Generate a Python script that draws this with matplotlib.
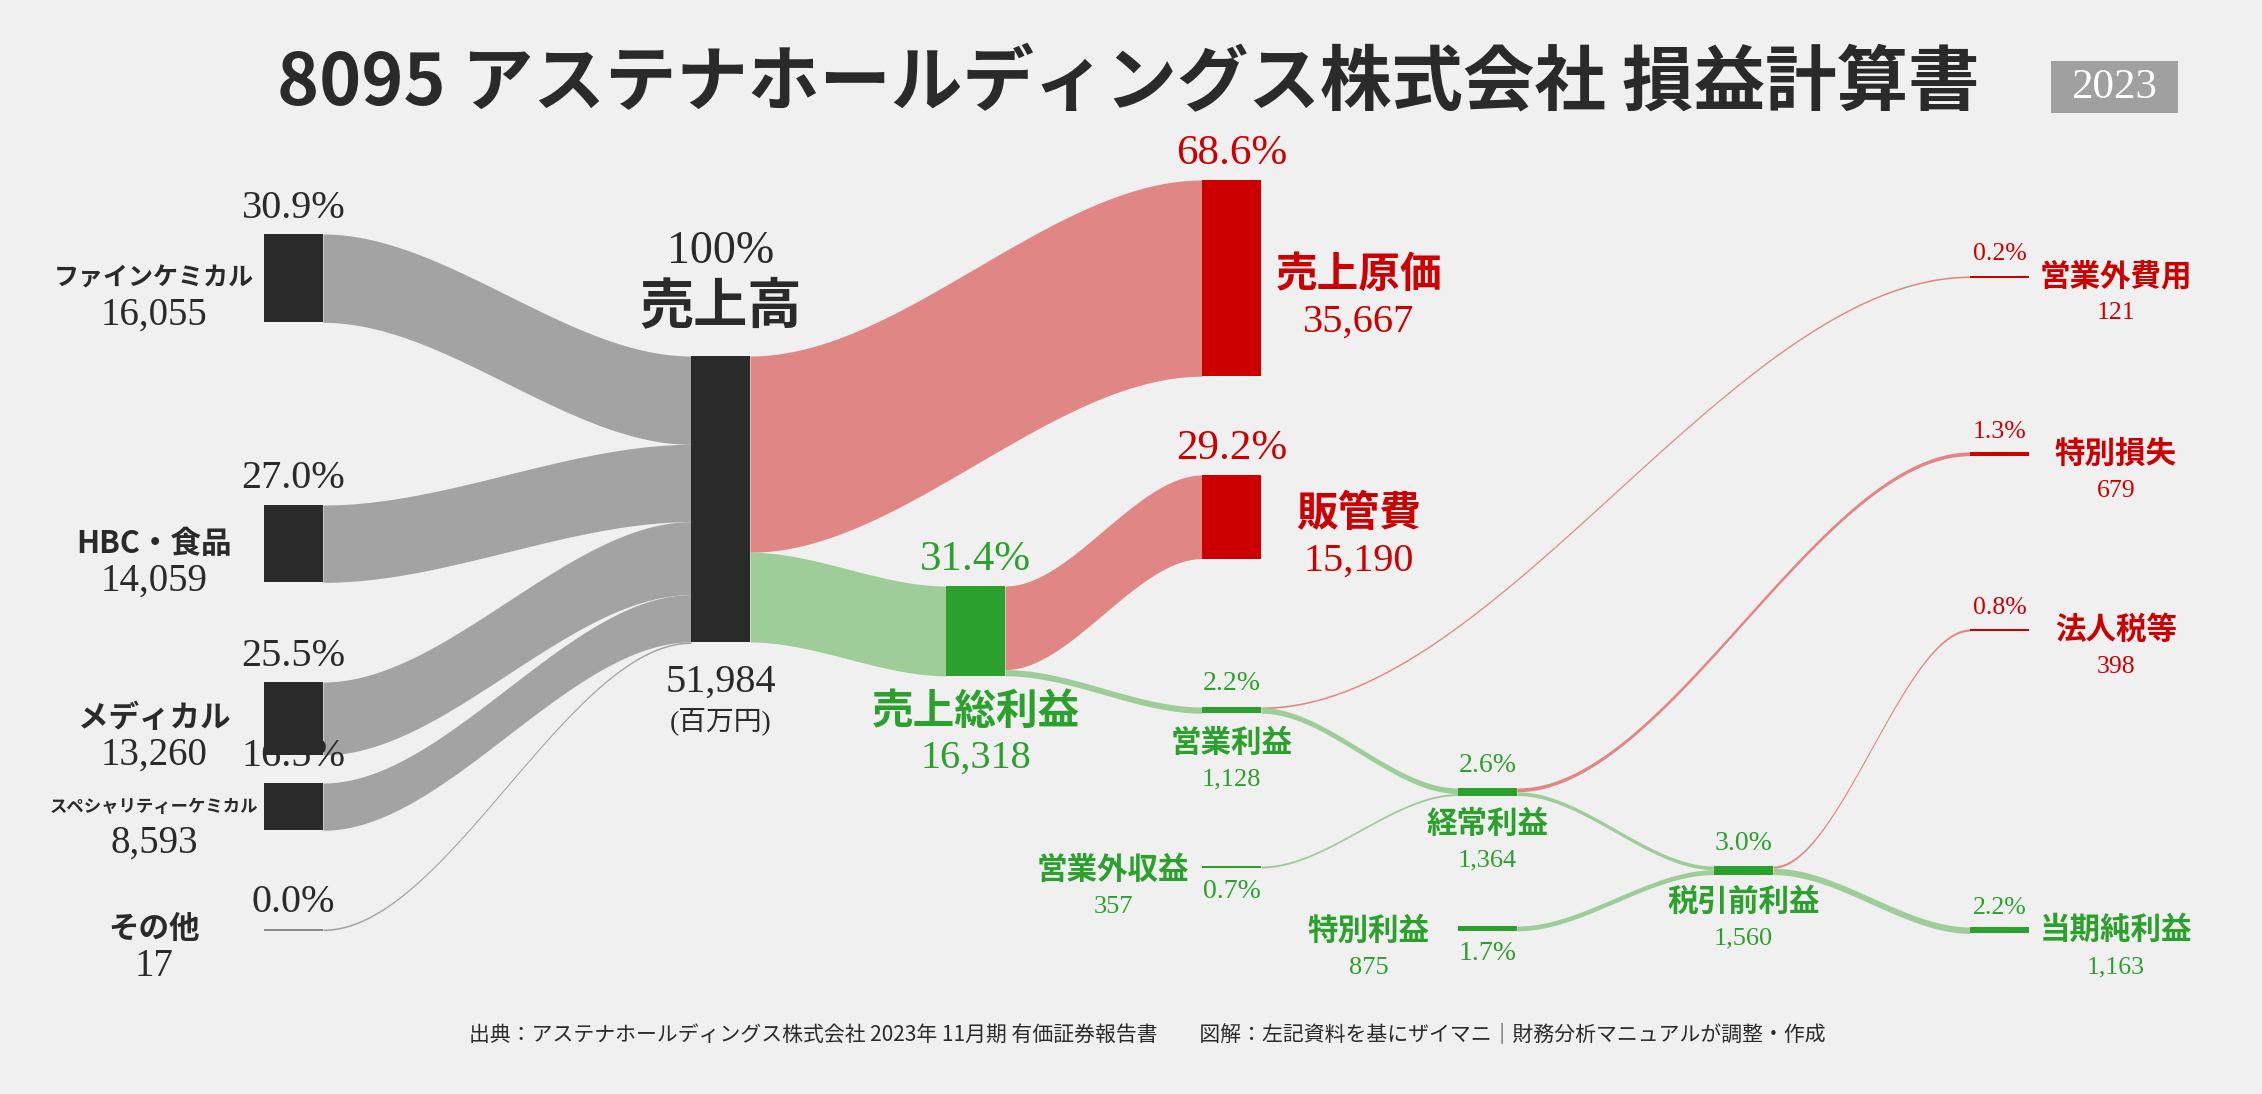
import numpy as np
import matplotlib.pyplot as plt
from matplotlib.patches import Rectangle

# ---- data (百万円) ----
segments = ['ファインケミカル', 'HBC・食品', 'メディカル', 'スペシャリティーケミカル', 'その他']
segment_values = [16055, 14059, 13260, 8593, 17]

pl_names = ['売上高', '売上原価', '売上総利益', '販管費', '営業利益', '営業外収益', '営業外費用',
            '経常利益', '特別利益', '特別損失', '税引前利益', '法人税等', '当期純利益']
pl_values = [51984, 35667, 16318, 15190, 1128, 357, 121, 1364, 875, 679, 1560, 398, 1163]

title = '8095 アステナホールディングス株式会社 損益計算書'
year = '2023'
source_note = ('出典：アステナホールディングス株式会社 2023年 11月期 有価証券報告書　　'
               '図解：左記資料を基にザイマニ｜財務分析マニュアルが調整・作成')

val = dict(zip(pl_names, pl_values))
for s, v in zip(segments, segment_values):
    val[s] = v
revenue = val['売上高']

costs = ['売上原価', '販管費', '営業外費用', '特別損失', '法人税等']
profits = ['売上総利益', '営業利益', '営業外収益', '経常利益', '特別利益', '税引前利益', '当期純利益']

flows = [(s, '売上高', v) for s, v in zip(segments, segment_values)]
flows += [
    ('売上高', '売上原価', val['売上原価']),
    ('売上高', '売上総利益', val['売上総利益']),
    ('売上総利益', '販管費', val['販管費']),
    ('売上総利益', '営業利益', val['営業利益']),
    ('営業利益', '営業外費用', val['営業外費用']),
    ('営業利益', '経常利益', val['営業利益'] - val['営業外費用']),
    ('営業外収益', '経常利益', val['営業外収益']),
    ('経常利益', '特別損失', val['特別損失']),
    ('経常利益', '税引前利益', val['経常利益'] - val['特別損失']),
    ('特別利益', '税引前利益', val['特別利益']),
    ('税引前利益', '法人税等', val['法人税等']),
    ('税引前利益', '当期純利益', val['税引前利益'] - val['法人税等']),
]

# ---- layout (pixels) ----
BG = '#f0f0f0'
DARK = '#2a2a2a'
RED = '#cc0000'
GREEN = '#2ca02c'
GREY_FLOW = '#a3a3a3'
RED_FLOW = '#e08684'
GREEN_FLOW = '#9fcd9a'

col_x = [264, 691, 946, 1202, 1458, 1714, 1970]
W = 59
k = 286.0 / revenue   # px per 百万円
MIN_H = 1.6

node_col = {s: 0 for s in segments}
node_col.update({'売上高': 1, '売上総利益': 2, '売上原価': 3, '販管費': 3, '営業利益': 3,
                 '営業外収益': 3, '経常利益': 4, '特別利益': 4, '税引前利益': 5,
                 '営業外費用': 6, '特別損失': 6, '法人税等': 6, '当期純利益': 6})
node_top = dict(zip(segments, [234, 505, 682, 783, 929]))
node_top.update({'売上高': 356, '売上原価': 180, '販管費': 475, '売上総利益': 586,
                 '営業利益': 707, '営業外収益': 866, '経常利益': 788, '特別利益': 926,
                 '税引前利益': 866, '営業外費用': 276, '特別損失': 452, '法人税等': 629,
                 '当期純利益': 927})

JP = ['Noto Sans CJK JP', 'DejaVu Sans']
SERIF = ['Liberation Serif', 'Noto Sans CJK JP']

fig = plt.figure(figsize=(22.62, 10.94), dpi=100, facecolor=BG)
ax = fig.add_axes([0, 0, 1, 1])
ax.set_xlim(0, 2262)
ax.set_ylim(1094, 0)
ax.axis('off')
ax.set_facecolor(BG)


def color_of(name):
    if name in costs:
        return RED
    if name in profits:
        return GREEN
    return DARK


def geom(name):
    x0 = col_x[node_col[name]]
    top = node_top[name]
    h = val[name] * k
    return x0, top, h


def band(x0, x1, ya, yb, h, color):
    t = np.linspace(0, 1, 200)
    s = t * t * (3 - 2 * t)
    xs = x0 + (x1 - x0) * t
    top = ya + (yb - ya) * s
    hh = max(h, MIN_H)
    ax.fill_between(xs, top, top + hh, color=color, lw=0, zorder=1)


# flows
out_off = {}
in_off = {}
for src, tgt, v in flows:
    sx, stop, _ = geom(src)
    tx, ttop, _ = geom(tgt)
    h = v * k
    ya = stop + out_off.get(src, 0)
    yb = ttop + in_off.get(tgt, 0)
    out_off[src] = out_off.get(src, 0) + h
    in_off[tgt] = in_off.get(tgt, 0) + h
    if src in segments:
        c = GREY_FLOW
    elif tgt in costs:
        c = RED_FLOW
    else:
        c = GREEN_FLOW
    band(sx + W, tx, ya, yb, h, c)

# nodes
for name in list(segments) + pl_names:
    x0, top, h = geom(name)
    c = color_of(name)
    if name == 'その他':
        c = '#8a8a8a'
    ax.add_patch(Rectangle((x0, top), W, max(h, MIN_H), color=c, lw=0, zorder=2))


def txt(x, y, s, size, color, bold=False, family=SERIF):
    ax.text(x, y, s, fontsize=size, color=color, ha='center', va='center',
            fontweight='bold' if bold else 'normal', family=family, zorder=3)


def pct(name):
    return f'{val[name] / revenue * 100:.1f}%'


# title
txt(1128, 84, title, 51.5, DARK, bold=True, family=JP)
ax.add_patch(Rectangle((2051, 61), 127, 52, color='#a0a0a0', lw=0))
txt(2114, 88, year, 31, 'white')

# segment column
name_sizes = [18, 22, 22, 12.5, 22]
for s, fs in zip(segments, name_sizes):
    x0, top, h = geom(s)
    cy = top + h / 2
    txt(x0 + W / 2, top - 26, pct(s), 29, DARK)
    txt(154, cy, s, fs, DARK, bold=True, family=JP)
    txt(154, cy + 37, f'{val[s]:,}', 28, DARK)

# revenue
x0, top, h = geom('売上高')
cx = x0 + W / 2
txt(cx, top - 104, '100%', 33, DARK)
txt(cx, top - 49, '売上高', 39, DARK, bold=True, family=JP)
txt(cx, top + h + 40, f'{revenue:,}', 29, DARK)
txt(cx, top + h + 79, '(百万円)', 20, DARK)

# large cost nodes
for name in ['売上原価', '販管費']:
    x0, top, h = geom(name)
    cy = top + h / 2
    txt(x0 + W / 2, top - 26, pct(name), 31, RED)
    txt(1359, cy - 3, name, 30, RED, bold=True, family=JP)
    txt(1359, cy + 44, f'{val[name]:,}', 29, RED)

# gross profit
x0, top, h = geom('売上総利益')
cx = x0 + W / 2
txt(cx, top - 26, pct('売上総利益'), 31, GREEN)
txt(cx, top + h + 36, '売上総利益', 30, GREEN, bold=True, family=JP)
txt(cx, top + h + 82, f'{val["売上総利益"]:,}', 29, GREEN)

# small profit nodes in the middle
for name in ['営業利益', '経常利益', '税引前利益']:
    x0, top, h = geom(name)
    cx = x0 + W / 2
    txt(cx, top - 23, pct(name), 20, GREEN)
    txt(cx, top + 36, name, 22, GREEN, bold=True, family=JP)
    txt(cx, top + 72, f'{val[name]:,}', 19, GREEN)

# income side inputs
for name in ['営業外収益', '特別利益']:
    x0, top, h = geom(name)
    cy = top + h / 2
    txt(x0 - 89, cy + 3, name, 22, GREEN, bold=True, family=JP)
    txt(x0 - 89, cy + 40, f'{val[name]:,}', 19, GREEN)
    txt(x0 + W / 2, cy + 25, pct(name), 20, GREEN)

# right column
for name in ['営業外費用', '特別損失', '法人税等', '当期純利益']:
    x0, top, h = geom(name)
    cy = top + h / 2
    c = color_of(name)
    txt(x0 + W / 2, cy - 22, pct(name), 18.5, c)
    txt(2116, cy, name, 22, c, bold=True, family=JP)
    txt(2116, cy + 37, f'{val[name]:,}', 18.5, c)

# footer
txt(1147, 1034, source_note, 15, DARK, family=JP)

fig.savefig('out.png', dpi=100, facecolor=BG)
